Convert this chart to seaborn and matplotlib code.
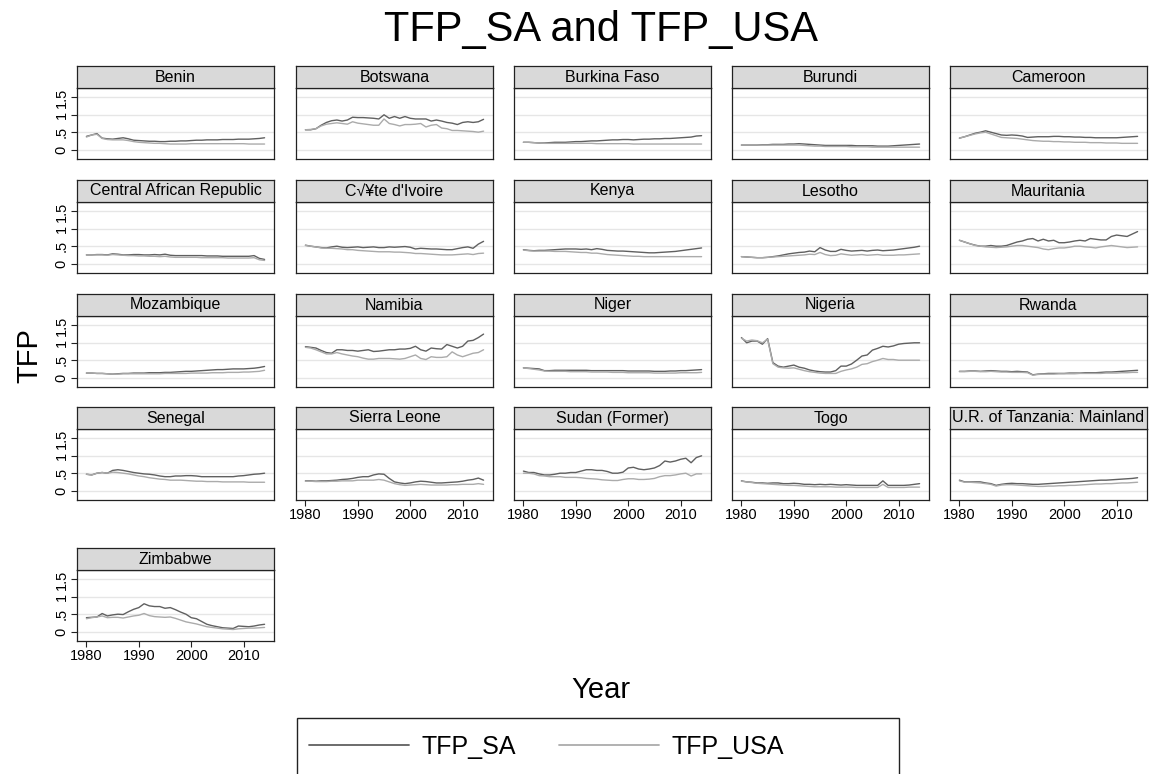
import matplotlib
matplotlib.use("Agg")
import matplotlib.pyplot as plt
import matplotlib.patches as mpatches
from matplotlib.lines import Line2D
import numpy as np
import pandas as pd
import seaborn as sns

sns.set_theme(style="white")
plt.rcParams["font.family"] = ["Liberation Sans", "DejaVu Sans"]
plt.rcParams.update({
    "text.color": "black",
    "axes.labelcolor": "black",
    "xtick.color": "black",
    "ytick.color": "black",
})

years = list(range(1980, 2015))

countries = [
    "Benin", "Botswana", "Burkina Faso", "Burundi", "Cameroon",
    "Central African Republic", "C\u221a\u00a5te d'Ivoire", "Kenya", "Lesotho", "Mauritania",
    "Mozambique", "Namibia", "Niger", "Nigeria", "Rwanda",
    "Senegal", "Sierra Leone", "Sudan (Former)", "Togo", "U.R. of Tanzania: Mainland",
    "Zimbabwe",
]

benin_sa = [0.38, 0.42, 0.46, 0.33, 0.31, 0.30, 0.32, 0.34, 0.31, 0.27, 0.26, 0.25, 0.24, 0.24, 0.23, 0.23, 0.24, 0.24,
            0.25, 0.25, 0.26, 0.27, 0.27, 0.28, 0.28, 0.28, 0.29, 0.29, 0.29, 0.30, 0.30, 0.30, 0.31, 0.32, 0.34]
benin_usa = [0.36, 0.42, 0.44, 0.32, 0.29, 0.28, 0.28, 0.28, 0.26, 0.23, 0.21, 0.20, 0.19, 0.18, 0.18, 0.17, 0.16, 0.16,
             0.16, 0.16, 0.17, 0.17, 0.17, 0.17, 0.17, 0.17, 0.17, 0.17, 0.17, 0.17, 0.17, 0.16, 0.16, 0.16, 0.16]
botswana_sa = [0.57, 0.57, 0.60, 0.70, 0.78, 0.83, 0.85, 0.82, 0.85, 0.93, 0.92, 0.92, 0.91, 0.90, 0.88, 1.00, 0.90,
               0.95, 0.90, 0.95, 0.90, 0.88, 0.88, 0.88, 0.82, 0.85, 0.82, 0.78, 0.76, 0.72, 0.78, 0.80, 0.78, 0.80, 0.87]
botswana_usa = [0.57, 0.58, 0.60, 0.68, 0.73, 0.75, 0.77, 0.75, 0.73, 0.80, 0.76, 0.74, 0.72, 0.70, 0.70, 0.88, 0.75,
                0.72, 0.68, 0.72, 0.72, 0.73, 0.75, 0.65, 0.70, 0.72, 0.62, 0.60, 0.55, 0.55, 0.54, 0.53, 0.52, 0.50, 0.53]
burkina_sa = [0.21, 0.21, 0.20, 0.19, 0.19, 0.20, 0.21, 0.21, 0.21, 0.22, 0.23, 0.23, 0.24, 0.25, 0.25, 0.26, 0.27, 0.28,
              0.28, 0.29, 0.29, 0.28, 0.29, 0.30, 0.30, 0.31, 0.31, 0.32, 0.32, 0.33, 0.34, 0.35, 0.36, 0.39, 0.40]
burkina_usa = [0.21, 0.21, 0.20, 0.19, 0.18, 0.18, 0.18, 0.18, 0.18, 0.18, 0.18, 0.18, 0.18, 0.18, 0.17, 0.17, 0.17, 0.17,
               0.17, 0.17, 0.17, 0.16, 0.16, 0.16, 0.16, 0.16, 0.16, 0.16, 0.16, 0.16, 0.16, 0.16, 0.16, 0.16, 0.16]
burundi_sa = [0.13, 0.13, 0.13, 0.13, 0.14, 0.14, 0.15, 0.15, 0.15, 0.16, 0.16, 0.17, 0.16, 0.15, 0.14, 0.13, 0.12, 0.12,
              0.12, 0.12, 0.12, 0.12, 0.11, 0.11, 0.11, 0.11, 0.10, 0.10, 0.10, 0.11, 0.12, 0.13, 0.14, 0.15, 0.16]
burundi_usa = [0.13, 0.13, 0.13, 0.13, 0.13, 0.13, 0.13, 0.13, 0.13, 0.13, 0.13, 0.13, 0.12, 0.11, 0.10, 0.10, 0.09, 0.09,
               0.09, 0.09, 0.09, 0.08, 0.08, 0.08, 0.08, 0.07, 0.07, 0.07, 0.07, 0.07, 0.07, 0.07, 0.07, 0.07, 0.07]
cameroon_sa = [0.33, 0.37, 0.42, 0.47, 0.50, 0.54, 0.50, 0.46, 0.42, 0.41, 0.42, 0.41, 0.39, 0.35, 0.36, 0.37, 0.37, 0.37,
               0.38, 0.38, 0.37, 0.37, 0.36, 0.36, 0.35, 0.35, 0.34, 0.34, 0.34, 0.34, 0.34, 0.35, 0.36, 0.37, 0.38]
cameroon_usa = [0.33, 0.37, 0.41, 0.45, 0.48, 0.50, 0.45, 0.40, 0.35, 0.34, 0.33, 0.32, 0.30, 0.28, 0.26, 0.25, 0.24, 0.24,
                0.23, 0.23, 0.22, 0.22, 0.21, 0.21, 0.21, 0.20, 0.20, 0.20, 0.19, 0.19, 0.19, 0.18, 0.18, 0.18, 0.18]
car_sa = [0.25, 0.25, 0.26, 0.26, 0.25, 0.28, 0.27, 0.25, 0.25, 0.26, 0.26, 0.25, 0.25, 0.26, 0.25, 0.27, 0.24, 0.23,
          0.23, 0.23, 0.23, 0.23, 0.23, 0.22, 0.22, 0.22, 0.21, 0.21, 0.21, 0.21, 0.21, 0.21, 0.23, 0.15, 0.12]
car_usa = [0.25, 0.25, 0.25, 0.25, 0.24, 0.26, 0.25, 0.24, 0.23, 0.23, 0.22, 0.22, 0.21, 0.21, 0.20, 0.21, 0.19, 0.18,
           0.18, 0.18, 0.18, 0.18, 0.17, 0.17, 0.17, 0.17, 0.17, 0.16, 0.16, 0.16, 0.16, 0.16, 0.17, 0.11, 0.09]
cote_sa = [0.53, 0.50, 0.48, 0.46, 0.45, 0.48, 0.50, 0.47, 0.46, 0.47, 0.48, 0.46, 0.47, 0.48, 0.46, 0.46, 0.48, 0.47,
           0.48, 0.49, 0.47, 0.42, 0.44, 0.43, 0.42, 0.42, 0.41, 0.40, 0.40, 0.43, 0.46, 0.48, 0.44, 0.56, 0.64]
cote_usa = [0.52, 0.50, 0.48, 0.45, 0.44, 0.44, 0.43, 0.42, 0.40, 0.40, 0.38, 0.37, 0.36, 0.35, 0.34, 0.34, 0.34, 0.33,
            0.33, 0.32, 0.31, 0.29, 0.29, 0.28, 0.27, 0.26, 0.25, 0.25, 0.25, 0.26, 0.27, 0.28, 0.26, 0.29, 0.30]
kenya_sa = [0.40, 0.38, 0.37, 0.38, 0.38, 0.39, 0.40, 0.41, 0.42, 0.42, 0.42, 0.41, 0.42, 0.40, 0.43, 0.41, 0.38, 0.37,
            0.36, 0.36, 0.35, 0.34, 0.33, 0.32, 0.31, 0.31, 0.32, 0.33, 0.34, 0.35, 0.37, 0.39, 0.41, 0.43, 0.45]
kenya_usa = [0.39, 0.37, 0.36, 0.36, 0.36, 0.36, 0.35, 0.35, 0.35, 0.34, 0.33, 0.32, 0.32, 0.30, 0.30, 0.28, 0.26, 0.25,
             0.24, 0.23, 0.22, 0.21, 0.21, 0.20, 0.20, 0.20, 0.20, 0.20, 0.20, 0.20, 0.20, 0.20, 0.20, 0.20, 0.20]
lesotho_sa = [0.20, 0.19, 0.18, 0.17, 0.17, 0.18, 0.20, 0.22, 0.25, 0.28, 0.30, 0.32, 0.33, 0.36, 0.34, 0.46, 0.39, 0.35,
              0.35, 0.41, 0.38, 0.36, 0.37, 0.38, 0.36, 0.38, 0.39, 0.37, 0.38, 0.39, 0.41, 0.43, 0.45, 0.47, 0.50]
lesotho_usa = [0.20, 0.19, 0.18, 0.17, 0.17, 0.18, 0.19, 0.20, 0.21, 0.22, 0.23, 0.24, 0.25, 0.27, 0.26, 0.32, 0.26, 0.23,
               0.24, 0.28, 0.26, 0.24, 0.25, 0.26, 0.24, 0.25, 0.26, 0.24, 0.24, 0.24, 0.25, 0.25, 0.26, 0.27, 0.28]
mauritania_sa = [0.67, 0.62, 0.57, 0.53, 0.50, 0.50, 0.52, 0.50, 0.50, 0.52, 0.57, 0.62, 0.65, 0.70, 0.72, 0.65, 0.70,
                 0.65, 0.67, 0.60, 0.60, 0.62, 0.65, 0.67, 0.65, 0.72, 0.70, 0.68, 0.68, 0.78, 0.82, 0.80, 0.78, 0.85, 0.92]
mauritania_usa = [0.67, 0.62, 0.57, 0.52, 0.50, 0.48, 0.47, 0.46, 0.47, 0.48, 0.50, 0.52, 0.52, 0.50, 0.48, 0.46, 0.42,
                  0.40, 0.43, 0.45, 0.45, 0.47, 0.50, 0.50, 0.48, 0.47, 0.45, 0.48, 0.50, 0.52, 0.50, 0.48, 0.46, 0.47, 0.48]
mozambique_sa = [0.13, 0.13, 0.12, 0.12, 0.11, 0.10, 0.11, 0.12, 0.12, 0.13, 0.13, 0.13, 0.14, 0.14, 0.14, 0.15, 0.15,
                 0.16, 0.17, 0.18, 0.18, 0.19, 0.20, 0.21, 0.22, 0.23, 0.23, 0.24, 0.25, 0.25, 0.25, 0.26, 0.27, 0.29, 0.32]
mozambique_usa = [0.13, 0.13, 0.12, 0.12, 0.11, 0.10, 0.10, 0.11, 0.11, 0.11, 0.11, 0.11, 0.11, 0.11, 0.11, 0.12, 0.12,
                  0.12, 0.12, 0.12, 0.13, 0.13, 0.13, 0.13, 0.14, 0.14, 0.14, 0.15, 0.15, 0.15, 0.16, 0.16, 0.17, 0.18, 0.21]
namibia_sa = [0.89, 0.87, 0.85, 0.78, 0.72, 0.70, 0.80, 0.80, 0.78, 0.78, 0.76, 0.78, 0.80, 0.75, 0.76, 0.78, 0.80, 0.80,
              0.82, 0.82, 0.84, 0.90, 0.80, 0.76, 0.85, 0.83, 0.82, 0.95, 0.90, 0.85, 0.90, 1.05, 1.07, 1.15, 1.25]
namibia_usa = [0.87, 0.85, 0.80, 0.74, 0.68, 0.68, 0.72, 0.68, 0.65, 0.62, 0.60, 0.56, 0.53, 0.53, 0.55, 0.55, 0.55, 0.54,
               0.53, 0.55, 0.60, 0.65, 0.55, 0.52, 0.60, 0.58, 0.58, 0.60, 0.74, 0.65, 0.60, 0.65, 0.70, 0.72, 0.80]
niger_sa = [0.28, 0.27, 0.26, 0.25, 0.20, 0.20, 0.21, 0.21, 0.21, 0.21, 0.21, 0.21, 0.21, 0.20, 0.20, 0.20, 0.20, 0.20,
            0.20, 0.20, 0.19, 0.19, 0.19, 0.19, 0.19, 0.18, 0.18, 0.18, 0.19, 0.19, 0.20, 0.20, 0.21, 0.22, 0.23]
niger_usa = [0.28, 0.26, 0.24, 0.22, 0.19, 0.18, 0.18, 0.18, 0.18, 0.17, 0.17, 0.17, 0.17, 0.16, 0.16, 0.16, 0.16, 0.15,
             0.15, 0.15, 0.14, 0.14, 0.14, 0.14, 0.14, 0.13, 0.13, 0.13, 0.13, 0.13, 0.14, 0.14, 0.14, 0.14, 0.15]
nigeria_sa = [1.15, 1.00, 1.05, 1.05, 0.96, 1.12, 0.43, 0.33, 0.30, 0.33, 0.36, 0.30, 0.27, 0.22, 0.19, 0.17, 0.16, 0.16,
              0.20, 0.33, 0.33, 0.39, 0.50, 0.62, 0.65, 0.79, 0.84, 0.90, 0.88, 0.91, 0.96, 0.98, 0.99, 1.00, 1.00]
nigeria_usa = [1.13, 1.05, 1.08, 1.06, 1.00, 1.10, 0.40, 0.30, 0.28, 0.27, 0.28, 0.24, 0.20, 0.17, 0.15, 0.13, 0.12, 0.12,
               0.12, 0.18, 0.22, 0.25, 0.30, 0.38, 0.40, 0.46, 0.50, 0.55, 0.52, 0.52, 0.50, 0.50, 0.50, 0.50, 0.50]
rwanda_sa = [0.18, 0.18, 0.19, 0.19, 0.18, 0.19, 0.20, 0.19, 0.18, 0.18, 0.17, 0.18, 0.17, 0.16, 0.08, 0.10, 0.11, 0.12,
             0.12, 0.12, 0.12, 0.13, 0.13, 0.13, 0.14, 0.14, 0.14, 0.15, 0.16, 0.16, 0.17, 0.18, 0.19, 0.20, 0.21]
rwanda_usa = [0.17, 0.17, 0.18, 0.18, 0.17, 0.17, 0.18, 0.17, 0.16, 0.16, 0.15, 0.15, 0.15, 0.14, 0.07, 0.09, 0.10, 0.10,
              0.10, 0.11, 0.11, 0.11, 0.11, 0.12, 0.12, 0.12, 0.12, 0.12, 0.13, 0.13, 0.13, 0.14, 0.14, 0.15, 0.15]
senegal_sa = [0.47, 0.45, 0.50, 0.52, 0.50, 0.58, 0.60, 0.58, 0.55, 0.52, 0.50, 0.48, 0.47, 0.45, 0.42, 0.40, 0.40, 0.42,
              0.42, 0.43, 0.43, 0.42, 0.40, 0.40, 0.40, 0.40, 0.40, 0.40, 0.40, 0.42, 0.43, 0.45, 0.47, 0.48, 0.50]
senegal_usa = [0.47, 0.45, 0.50, 0.52, 0.50, 0.53, 0.52, 0.50, 0.48, 0.45, 0.42, 0.40, 0.37, 0.35, 0.33, 0.32, 0.30, 0.30,
               0.30, 0.29, 0.28, 0.27, 0.27, 0.26, 0.26, 0.26, 0.25, 0.25, 0.25, 0.25, 0.25, 0.24, 0.24, 0.24, 0.24]
sierra_sa = [0.28, 0.28, 0.27, 0.28, 0.28, 0.29, 0.30, 0.32, 0.33, 0.35, 0.38, 0.40, 0.40, 0.45, 0.48, 0.47, 0.35, 0.25,
             0.22, 0.20, 0.22, 0.25, 0.27, 0.26, 0.24, 0.22, 0.22, 0.23, 0.24, 0.25, 0.27, 0.30, 0.32, 0.36, 0.30]
sierra_usa = [0.27, 0.27, 0.26, 0.26, 0.26, 0.27, 0.27, 0.28, 0.28, 0.28, 0.30, 0.30, 0.30, 0.30, 0.32, 0.30, 0.25, 0.20,
              0.17, 0.15, 0.16, 0.17, 0.18, 0.17, 0.16, 0.16, 0.16, 0.16, 0.17, 0.17, 0.18, 0.18, 0.18, 0.20, 0.18]
sudan_sa = [0.56, 0.52, 0.52, 0.48, 0.45, 0.45, 0.47, 0.50, 0.50, 0.52, 0.52, 0.56, 0.60, 0.60, 0.58, 0.58, 0.55, 0.50,
            0.50, 0.53, 0.65, 0.67, 0.62, 0.60, 0.62, 0.65, 0.72, 0.85, 0.82, 0.85, 0.90, 0.93, 0.80, 0.95, 1.00]
sudan_usa = [0.50, 0.50, 0.48, 0.43, 0.42, 0.40, 0.40, 0.40, 0.38, 0.38, 0.38, 0.37, 0.35, 0.34, 0.33, 0.31, 0.30, 0.29,
             0.29, 0.32, 0.34, 0.34, 0.32, 0.32, 0.33, 0.35, 0.40, 0.43, 0.43, 0.45, 0.48, 0.50, 0.42, 0.48, 0.48]
togo_sa = [0.28, 0.25, 0.24, 0.22, 0.22, 0.21, 0.22, 0.22, 0.20, 0.20, 0.21, 0.20, 0.18, 0.18, 0.17, 0.18, 0.17, 0.18,
           0.17, 0.16, 0.17, 0.16, 0.15, 0.15, 0.15, 0.15, 0.15, 0.28, 0.15, 0.15, 0.15, 0.15, 0.16, 0.18, 0.20]
togo_usa = [0.27, 0.25, 0.23, 0.21, 0.20, 0.19, 0.18, 0.17, 0.16, 0.15, 0.15, 0.14, 0.13, 0.12, 0.11, 0.11, 0.11, 0.11,
            0.10, 0.10, 0.10, 0.10, 0.09, 0.09, 0.09, 0.09, 0.09, 0.18, 0.09, 0.09, 0.09, 0.09, 0.10, 0.10, 0.10]
tanzania_sa = [0.30, 0.25, 0.25, 0.25, 0.25, 0.22, 0.20, 0.15, 0.18, 0.20, 0.21, 0.20, 0.20, 0.19, 0.18, 0.18, 0.19, 0.20,
               0.21, 0.22, 0.23, 0.24, 0.25, 0.26, 0.27, 0.28, 0.29, 0.30, 0.30, 0.31, 0.32, 0.33, 0.34, 0.35, 0.37]
tanzania_usa = [0.28, 0.24, 0.24, 0.23, 0.22, 0.20, 0.18, 0.13, 0.16, 0.17, 0.17, 0.16, 0.15, 0.14, 0.13, 0.12, 0.12, 0.13,
                0.13, 0.14, 0.14, 0.15, 0.15, 0.16, 0.17, 0.18, 0.19, 0.19, 0.20, 0.20, 0.21, 0.22, 0.22, 0.23, 0.24]
zimbabwe_sa = [0.40, 0.41, 0.42, 0.52, 0.45, 0.48, 0.50, 0.49, 0.57, 0.64, 0.69, 0.80, 0.74, 0.72, 0.72, 0.67, 0.69, 0.63,
               0.56, 0.50, 0.40, 0.37, 0.29, 0.21, 0.17, 0.14, 0.11, 0.10, 0.09, 0.16, 0.15, 0.14, 0.16, 0.19, 0.21]
zimbabwe_usa = [0.37, 0.40, 0.42, 0.45, 0.40, 0.41, 0.41, 0.39, 0.42, 0.45, 0.47, 0.52, 0.46, 0.43, 0.42, 0.41, 0.42, 0.38,
                0.33, 0.28, 0.25, 0.22, 0.18, 0.14, 0.12, 0.10, 0.08, 0.07, 0.06, 0.08, 0.09, 0.10, 0.10, 0.11, 0.12]

tfp_sa = [benin_sa, botswana_sa, burkina_sa, burundi_sa, cameroon_sa, car_sa, cote_sa, kenya_sa, lesotho_sa,
          mauritania_sa, mozambique_sa, namibia_sa, niger_sa, nigeria_sa, rwanda_sa, senegal_sa, sierra_sa,
          sudan_sa, togo_sa, tanzania_sa, zimbabwe_sa]
tfp_usa = [benin_usa, botswana_usa, burkina_usa, burundi_usa, cameroon_usa, car_usa, cote_usa, kenya_usa, lesotho_usa,
           mauritania_usa, mozambique_usa, namibia_usa, niger_usa, nigeria_usa, rwanda_usa, senegal_usa, sierra_usa,
           sudan_usa, togo_usa, tanzania_usa, zimbabwe_usa]

rows = []
for name, sa, usa in zip(countries, tfp_sa, tfp_usa):
    for yr, a, b in zip(years, sa, usa):
        rows.append({"country": name, "year": yr, "series": "TFP_SA", "tfp": a})
        rows.append({"country": name, "year": yr, "series": "TFP_USA", "tfp": b})
df = pd.DataFrame(rows)

PALETTE = {"TFP_SA": "#606060", "TFP_USA": "#ababab"}

W, H = 1149, 774
fig = plt.figure(figsize=(W / 100, H / 100), dpi=100)

# panel grid in pixels (top-left origin)
col_left = [77, 296, 514, 732, 950]
strip_top = [66, 180, 294, 407, 548]
pw, sh, ph = 197, 22, 71

for i, name in enumerate(countries):
    r, c = divmod(i, 5)
    x0 = col_left[c]
    y_strip = strip_top[r]
    y_plot_bottom = y_strip + sh + ph

    ax = fig.add_axes([x0 / W, 1 - y_plot_bottom / H, pw / W, ph / H])
    sub = df[df["country"] == name]
    sns.lineplot(data=sub, x="year", y="tfp", hue="series", palette=PALETTE,
                 linewidth=1.0, legend=False, ax=ax)
    ax.set_xlim(1978.2, 2015.8)
    ax.set_ylim(-0.27, 1.77)
    ax.set_yticks([0, 0.5, 1, 1.5])
    ax.set_xticks([1980, 1990, 2000, 2010])
    ax.grid(axis="y", color="#e6e6e6", linewidth=1.0)
    ax.grid(axis="x", visible=False)
    ax.set_axisbelow(True)
    ax.set_xlabel("")
    ax.set_ylabel("")
    for sp in ax.spines.values():
        sp.set_color("#222222")
        sp.set_linewidth(0.9)

    bottom_of_col = (i + 5) >= len(countries)
    if c == 0:
        ax.set_yticklabels(["0", ".5", "1", "1.5"], rotation=90, va="center", fontsize=10.5)
        ax.tick_params(axis="y", length=4, width=0.8, color="#222222", left=True, pad=2)
    else:
        ax.tick_params(axis="y", left=False, labelleft=False)
    if bottom_of_col:
        ax.tick_params(axis="x", length=4, width=0.8, color="#222222", bottom=True,
                       labelsize=10.5, pad=2)
    else:
        ax.tick_params(axis="x", bottom=False, labelbottom=False)

    # strip header
    sax = fig.add_axes([x0 / W, 1 - (y_strip + sh) / H, pw / W, sh / H])
    sax.set_facecolor("#d9d9d9")
    sax.set_xticks([])
    sax.set_yticks([])
    for sp in sax.spines.values():
        sp.set_color("#222222")
        sp.set_linewidth(0.9)
    sax.text(0.5, 0.5, name, ha="center", va="center", fontsize=11.5,
             color="black", transform=sax.transAxes)

fig.text(0.523, 0.961, "TFP_SA and TFP_USA", ha="center", va="center", fontsize=30)
fig.text(0.523, 0.108, "Year", ha="center", va="center", fontsize=21)
fig.text(0.026, 0.541, "TFP", ha="center", va="center", fontsize=21, rotation=90)

handles = [Line2D([], [], color=PALETTE["TFP_SA"], linewidth=1.3),
           Line2D([], [], color=PALETTE["TFP_USA"], linewidth=1.3)]
fig.legend(handles, ["TFP_SA", "TFP_USA"], loc="center", bbox_to_anchor=(0.4756, 0.035),
           ncol=2, frameon=False, fontsize=18, handlelength=4.0, handletextpad=0.5,
           columnspacing=1.7)
fig.patches.append(mpatches.Rectangle((297 / W, -0.05), 602 / W, 0.05 + (H - 718) / H,
                                      transform=fig.transFigure, fill=False,
                                      edgecolor="#222222", linewidth=1.0))

fig.savefig("out.png", dpi=100)
